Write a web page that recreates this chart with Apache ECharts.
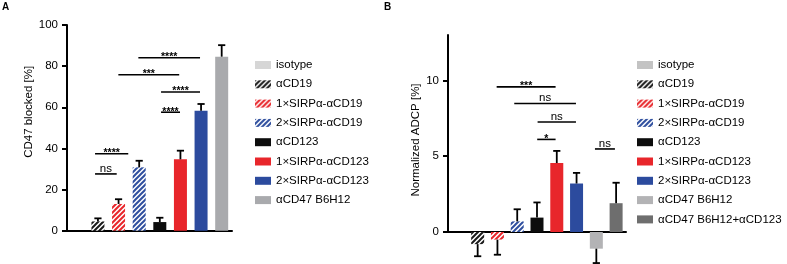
<!DOCTYPE html>
<html>
<head>
<meta charset="utf-8">
<script src="https://cdn.jsdelivr.net/npm/echarts@6/dist/echarts.min.js"></script>
<style>
html,body{margin:0;padding:0;background:#fff;}
#main{width:787px;height:264px;}
</style>
</head>
<body>
<div id="main"></div>
<script>
// panel A: CD47 blocked
var groupsA = ['isotype','αCD19','1×SIRPα-αCD19','2×SIRPα-αCD19','αCD123','1×SIRPα-αCD123','2×SIRPα-αCD123','αCD47 B6H12'];
var valuesA = [0, 4.5, 13, 30.8, 4.2, 34.7, 58.3, 84.6];
var errorsA = [0, 1.5, 2.3, 3.2, 2.1, 4.2, 3.3, 5.6];
// panel B: normalized ADCP
var groupsB = ['isotype','αCD19','1×SIRPα-αCD19','2×SIRPα-αCD19','αCD123','1×SIRPα-αCD123','2×SIRPα-αCD123','αCD47 B6H12','αCD47 B6H12+αCD123'];
var valuesB = [0, -0.8, -0.5, 0.7, 0.95, 4.55, 3.2, -1.1, 1.9];
var errorsB = [0, 0.8, 1.0, 0.8, 1.0, 0.8, 0.7, 0.95, 1.35];
// significance brackets (from / to in category units, height in axis units)
var sigFromA = [0.86, 0.86, 4.06, 4.06, 1.99, 2.96];
var sigToA   = [1.91, 2.47, 4.98, 5.95, 4.94, 5.95];
var sigYA    = [27.6, 37.4, 57.6, 67.4, 75.8, 84.1];
var sigTextA = ['ns','****','****','****','***','****'];
var sigFromB = [1.96, 2.85, 4.03, 4.01, 6.93];
var sigToB   = [4.94, 5.97, 5.97, 4.94, 7.94];
var sigYB    = [9.58, 8.48, 7.26, 6.11, 5.48];
var sigTextB = ['***','ns','ns','*','ns'];
var ticksB = [0, 5, 10];

var FONT = '"Liberation Sans", Arial, sans-serif';

function hatch(color){
    var c = document.createElement('canvas');
    c.width = 5; c.height = 5;
    var g = c.getContext('2d');
    g.fillStyle = '#fff';
    g.fillRect(0,0,5,5);
    g.strokeStyle = color;
    g.lineWidth = 2;
    g.beginPath();
    g.moveTo(-1,1); g.lineTo(1,-1);
    g.moveTo(0,5); g.lineTo(5,0);
    g.moveTo(4,6); g.lineTo(6,4);
    g.stroke();
    return {image: c, repeat: 'repeat'};
}

var colorsA = ['#d6d6d6', hatch('#1a1a1a'), hatch('#e8262b'), hatch('#2f4f9f'), '#0d0d0d', '#e8262b', '#2c4b9e', '#a9aaad'];
var colorsB = ['#c3c3c3', hatch('#1a1a1a'), hatch('#e8262b'), hatch('#2f4f9f'), '#0d0d0d', '#e8262b', '#2c4b9e', '#b3b3b5', '#6e6e6e'];

function barSeries(groups, values, colors, idx){
    return groups.map(function(name, i){
        var d = groups.map(function(){ return '-'; });
        d[i] = values[i];
        return {
            type: 'bar', name: name,
            xAxisIndex: idx, yAxisIndex: idx,
            data: d, barWidth: 13, barGap: '-100%',
            clip: false,
            itemStyle: {color: colors[i]},
            emphasis: {disabled: true}
        };
    });
}

function errSeries(values, errors, idx){
    return {
        type: 'custom', xAxisIndex: idx, yAxisIndex: idx, z: 5, clip: false,
        data: values.map(function(v, i){ return [i, v, errors[i]]; }),
        renderItem: function(params, api){
            var i = api.value(0), v = api.value(1), e = api.value(2);
            if (!e) return;
            var s = v < 0 ? -1 : 1;
            var p0 = api.coord([i, v]);
            var p1 = api.coord([i, v + s * e]);
            var st = {stroke: '#000', lineWidth: 1.8};
            return {type: 'group', children: [
                {type: 'line', shape: {x1: p0[0], y1: p0[1], x2: p1[0], y2: p1[1]}, style: st},
                {type: 'line', shape: {x1: p1[0] - 3.6, y1: p1[1], x2: p1[0] + 3.6, y2: p1[1]}, style: st}
            ]};
        }
    };
}

function sigSeries(from, to, ys, texts, idx){
    return {
        type: 'custom', xAxisIndex: idx, yAxisIndex: idx, z: 6, clip: false,
        dimensions: ['k', 'from', 'to', 'y'],
        encode: {x: 0, y: 3},
        data: from.map(function(f, k){ return [k, f, to[k], ys[k]]; }),
        renderItem: function(params, api){
            var k = params.dataIndex;
            var band = api.size([1, 0])[0];
            var base = api.coord([0, api.value(3)]);
            var x1 = base[0] + api.value(1) * band;
            var x2 = base[0] + api.value(2) * band;
            var y = base[1];
            var t = texts[k];
            var star = t.charAt(0) === '*';
            return {type: 'group', children: [
                {type: 'line', shape: {x1: x1, y1: y, x2: x2, y2: y}, style: {stroke: '#000', lineWidth: 1.6}},
                {type: 'text', x: (x1 + x2) / 2, y: star ? y + 5 : y + 0.5, style: {
                    text: t, align: 'center', verticalAlign: 'bottom',
                    font: (star ? 'bold 10.5px ' : '11.5px ') + FONT, fill: '#000'
                }}
            ]};
        }
    };
}

function legendData(groups, colors){
    return groups.map(function(n, i){ return {name: n, itemStyle: {color: colors[i]}}; });
}

var legendStyle = {
    orient: 'vertical', top: 58, itemWidth: 16, itemHeight: 8, itemGap: 5.3,
    icon: 'rect', selectedMode: false, padding: 0,
    textStyle: {fontSize: 11.5, lineHeight: 14, color: '#000', fontFamily: FONT}
};

var axisLine = {lineStyle: {color: '#000', width: 2}};

var myChart = echarts.init(document.getElementById('main'));
var option = {
    animation: false,
    textStyle: {fontFamily: FONT},
    graphic: [
        {type: 'text', left: 2, top: 2, style: {text: 'A', font: 'bold 10px ' + FONT, fill: '#000'}},
        {type: 'text', left: 384, top: 2, style: {text: 'B', font: 'bold 10px ' + FONT, fill: '#000'}}
    ],
    legend: [
        Object.assign({left: 255, data: legendData(groupsA, colorsA)}, legendStyle),
        Object.assign({left: 637, data: legendData(groupsB, colorsB)}, legendStyle)
    ],
    grid: [
        {left: 67, top: 25, width: 165, height: 205.7},
        {left: 448, top: 35, width: 178, height: 197}
    ],
    xAxis: [
        {type: 'category', gridIndex: 0, data: groupsA, axisLine: axisLine, axisTick: {show: false}, axisLabel: {show: false}},
        {type: 'category', gridIndex: 1, data: groupsB, axisLine: axisLine, axisTick: {show: false}, axisLabel: {show: false}}
    ],
    yAxis: [
        {
            type: 'value', gridIndex: 0, min: 0, max: 100, interval: 20,
            axisLine: {show: true, lineStyle: {color: '#000', width: 2}},
            axisTick: {show: true, length: 5, lineStyle: {color: '#000', width: 2}},
            axisLabel: {fontSize: 11.5, color: '#000', margin: 9},
            splitLine: {show: false},
            name: 'CD47 blocked [%]', nameLocation: 'middle', nameGap: 31,
            nameTextStyle: {fontSize: 11.5, color: '#000', padding: [0, 0, 0, 32]}
        },
        {
            type: 'value', gridIndex: 1, min: 0, max: 13, interval: 5,
            axisLine: {show: true, lineStyle: {color: '#000', width: 2}},
            axisTick: {show: true, length: 5, lineStyle: {color: '#000', width: 2}, customValues: ticksB},
            axisLabel: {fontSize: 11.5, color: '#000', margin: 9, customValues: ticksB},
            splitLine: {show: false},
            name: 'Normalized ADCP [%]', nameLocation: 'middle', nameGap: 26,
            nameTextStyle: {fontSize: 11.5, color: '#000', padding: [0, 13, 0, 0]}
        }
    ],
    series: [].concat(
        barSeries(groupsA, valuesA, colorsA, 0),
        barSeries(groupsB, valuesB, colorsB, 1),
        [errSeries(valuesA, errorsA, 0), errSeries(valuesB, errorsB, 1),
         sigSeries(sigFromA, sigToA, sigYA, sigTextA, 0),
         sigSeries(sigFromB, sigToB, sigYB, sigTextB, 1)]
    )
};
myChart.setOption(option, true);
</script>
</body>
</html>
